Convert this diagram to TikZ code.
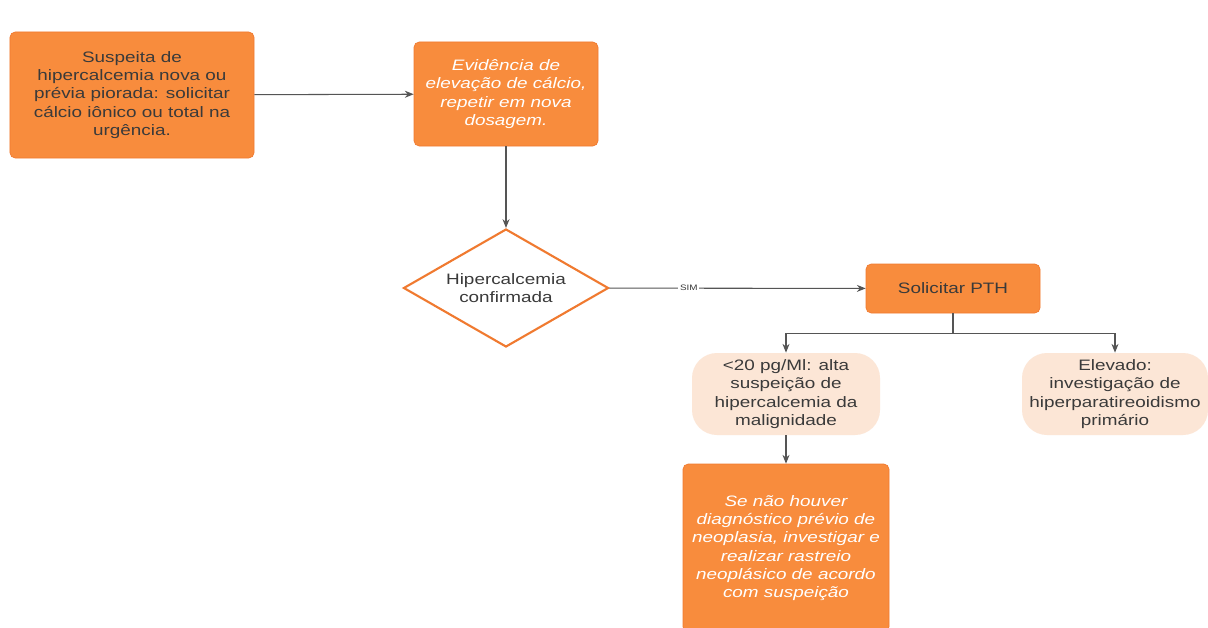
\documentclass[tikz,border=0pt]{standalone}
\usepackage{fontspec}
\setmainfont{Liberation Sans}[FakeStretch=1.25]
\definecolor{boxorange}{HTML}{F88C3D}
\definecolor{edgeorange}{HTML}{F07A30}
\definecolor{peach}{HTML}{FCE6D6}
\definecolor{darktext}{HTML}{3A3A3A}
\definecolor{linegray}{HTML}{555555}
\usetikzlibrary{shapes.geometric, arrows.meta}

\begin{document}
\begin{tikzpicture}[
				box/.style={draw=edgeorange, fill=boxorange, text=#1, minimum width=3.5cm, minimum height=1cm, rounded corners=3pt, align=center, font=\fontsize{8.6}{10.4}\selectfont},
				pill/.style={fill=peach, text=darktext, rounded corners=0.5cm, align=center, minimum height=1.64cm, font=\fontsize{8.6}{10.4}\selectfont},
				decision/.style={diamond, aspect=2, draw=edgeorange, line width=1.2pt, fill=white, text=darktext, minimum width=4.1cm, minimum height=2.36cm, inner sep=0pt, align=center, font=\fontsize{8.6}{10.4}\selectfont},
				arrow/.style={-{Stealth[length=5pt, width=4pt]}, line width=0.6pt, color=linegray}
			]
			\useasboundingbox[fill=white] (0,0) rectangle (24.16,-12.56);

			% Top row
			\node[box=darktext, minimum width=4.88cm, minimum height=2.52cm] (susp) at (2.64, -1.90) {Suspeita de\\hipercalcemia nova ou\\prévia piorada: solicitar\\cálcio iônico ou total na\\urgência.};
			\node[box=white, minimum width=3.68cm, minimum height=2.08cm] (evid) at (10.12, -1.88) {\itshape Evidência de\\\itshape elevação de cálcio,\\\itshape repetir em nova\\\itshape dosagem.};

			% Middle row
			\node[decision] (conf) at (10.12, -5.76) {Hipercalcemia\\confirmada};
			\node[box=darktext, minimum width=3.48cm, minimum height=0.98cm] (pth) at (19.06, -5.77) {Solicitar PTH};

			% PTH results
			\node[pill, minimum width=3.76cm] (low) at (15.72, -7.88) {<20 pg/Ml: alta\\suspeição de\\hipercalcemia da\\malignidade};
			\node[pill, minimum width=3.72cm] (elev) at (22.3, -7.88) {Elevado:\\investigação de\\hiperparatireoidismo\\primário};

			% Bottom
			\node[box=white, minimum width=4.12cm, minimum height=3.36cm] (neo) at (15.72, -10.96) {\itshape Se não houver\\\itshape diagnóstico prévio de\\\itshape neoplasia, investigar e\\\itshape realizar rastreio\\\itshape neoplásico de acordo\\\itshape com suspeição};

			\draw[arrow] (susp) -- (evid);
			\draw[arrow] (evid) -- (conf);
			\draw[arrow] (conf) -- node[pos=0.31, fill=white, inner sep=1pt, text=darktext, font=\fontsize{4.5}{5}\selectfont] {SIM} (pth);
			\draw[arrow] (pth.south) -- ++(0,-0.4) -| (low.north);
			\draw[arrow] (pth.south) -- ++(0,-0.4) -| (elev.north);
			\draw[arrow] (low) -- (neo);
		\end{tikzpicture}
\end{document}
